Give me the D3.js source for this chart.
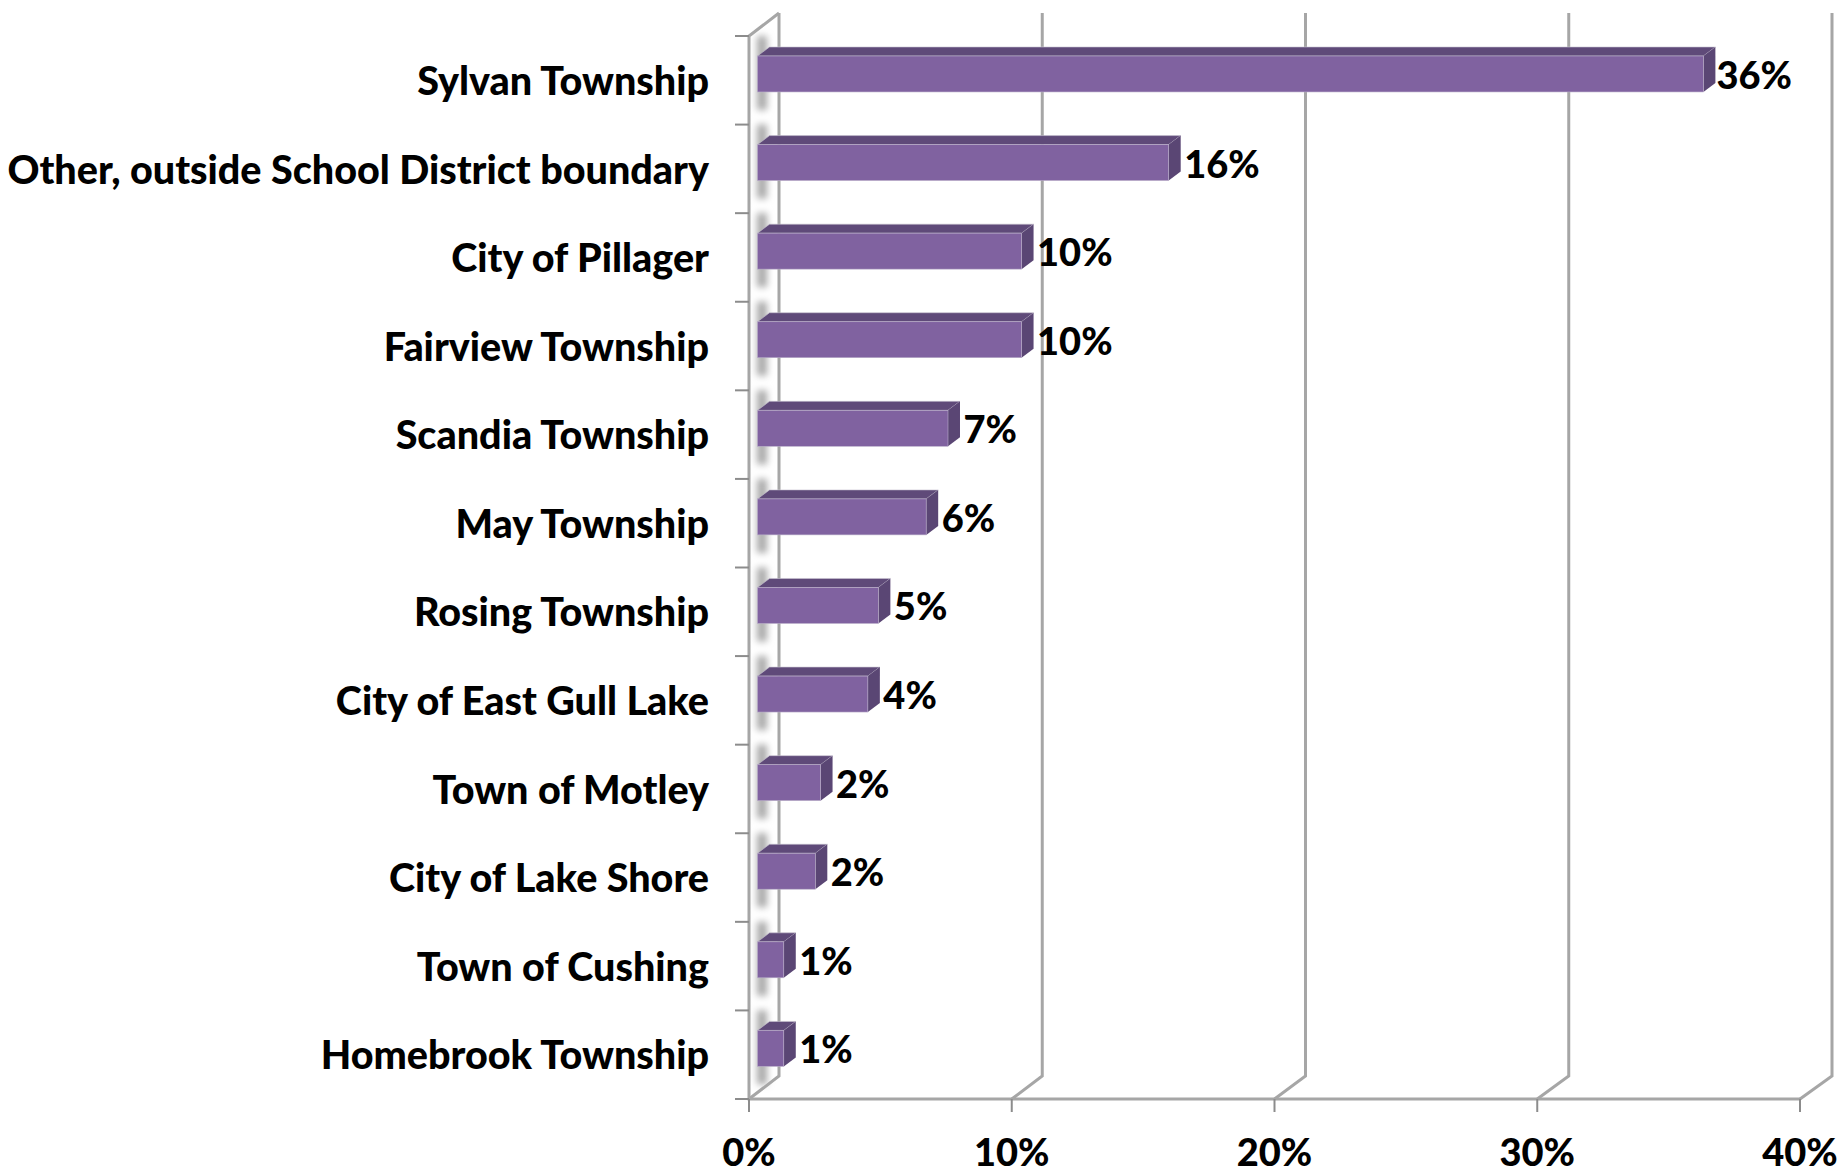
<!DOCTYPE html>
<html><head><meta charset="utf-8">
<script src="https://cdn.jsdelivr.net/npm/d3@7/dist/d3.min.js"></script>
<style>html,body{margin:0;background:#fff;overflow:hidden}svg{display:block}text{font-family:Lato,"Open Sans",sans-serif;font-weight:900;fill:#000}</style>
</head><body><script>
const categories=["Sylvan Township","Other, outside School District boundary","City of Pillager","Fairview Township","Scandia Township","May Township","Rosing Township","City of East Gull Lake","Town of Motley","City of Lake Shore","Town of Cushing","Homebrook Township"];
const values=[36,15.65,10.05,10.05,7.25,6.42,4.6,4.2,2.4,2.2,1,1];
const valueLabels=["36%","16%","10%","10%","7%","6%","5%","4%","2%","2%","1%","1%"];
const xTicks=[0,10,20,30,40];
const titleFragments=["g","g"];

const W=1841,H=1169;
const AX0=749,AX1=1800,AY0=36,AY1=1099,DY=-23,BDX=12,BDY=-9,BARSHIFT=8.5;
const FS=39.5,VFS=38,GRID="#a6a6a6";
const x=d3.scaleLinear().domain([0,40]).range([AX0,AX1]);
const xBack=d3.scaleLinear().domain([0,40]).range([779,1832]);
const y=d3.scaleBand().domain(categories).range([AY0,AY1]).paddingInner(.594).paddingOuter(.297).align(.38);
const svg=d3.select("body").append("svg").attr("width",W).attr("height",H);
const defs=svg.append("defs");
defs.append("filter").attr("id","blur").attr("x","-100%").attr("width","300%").attr("y","-30%").attr("height","160%")
  .append("feGaussianBlur").attr("stdDeviation",3.5);

// cropped title, only descenders visible
svg.selectAll("text.title").data(titleFragments).join("text").attr("class","title")
  .attr("x",(d,i)=>[535,842][i]).attr("y",-8).attr("text-anchor","middle").attr("font-size",40).text(d=>d);

// gridlines on floor and back wall
const grid=svg.append("g").attr("fill","none").attr("stroke",GRID).attr("stroke-width",3);
grid.selectAll("path").data(xTicks).join("path")
  .attr("d",d=>`M${x(d)},${AY1}L${xBack(d)},${AY1+DY}L${xBack(d)},${AY0+DY}`);
// side wall
grid.append("path").attr("d",`M${xBack(0)},${AY0+DY}L${AX0},${AY0}L${AX0},${AY1}L${AX1},${AY1}`);

// axes ticks
const ticks=svg.append("g").attr("stroke","#8c8c8c").attr("stroke-width",2);
ticks.selectAll("line.c").data(d3.range(categories.length+1)).join("line").attr("class","c")
  .attr("x1",AX0-14).attr("x2",AX0).attr("y1",i=>y.range()[0]+i*y.step()).attr("y2",i=>y.range()[0]+i*y.step());
ticks.selectAll("line.x").data(xTicks).join("line").attr("class","x")
  .attr("x1",d=>x(d)).attr("x2",d=>x(d)).attr("y1",AY1).attr("y2",AY1+13);

// wall shadows
svg.append("g").attr("filter","url(#blur)").selectAll("rect").data(categories).join("rect")
  .attr("x",AX0+8).attr("width",10).attr("y",d=>y(d)-20).attr("height",y.bandwidth()+38).attr("fill","#a8a8a8");

// bars
const bars=svg.append("g").selectAll("g").data(categories).join("g");
const x0=x(0)+BARSHIFT;
const w=i=>x(values[i])-x(0);
bars.append("path").attr("fill","#5f4a79").attr("stroke","#c9c4d2").attr("stroke-width",.6)
  .attr("d",(d,i)=>`M${x0},${y(d)}l${BDX},${BDY}h${w(i)}l${-BDX},${-BDY}z`);
bars.append("path").attr("fill","#5a4674")
  .attr("d",(d,i)=>`M${x0+w(i)},${y(d)}l${BDX},${BDY}v${y.bandwidth()}l${-BDX},${-BDY}z`);
bars.append("rect").attr("fill","#8062a0").attr("stroke","#b9aec9").attr("stroke-width",.6)
  .attr("x",x0).attr("y",d=>y(d)).attr("width",(d,i)=>w(i)).attr("height",y.bandwidth());

// labels
svg.selectAll("text.cat").data(categories).join("text").attr("class","cat")
  .attr("x",709).attr("y",d=>y(d)+y.bandwidth()/2+21).attr("text-anchor","end").attr("font-size",FS).text(d=>d);
svg.selectAll("text.val").data(categories).join("text").attr("class","val")
  .attr("x",(d,i)=>x0+w(i)+(i===0?13:15.5)).attr("y",d=>y(d)+y.bandwidth()/2+15).attr("font-size",VFS).text((d,i)=>valueLabels[i]);
svg.selectAll("text.xt").data(xTicks).join("text").attr("class","xt")
  .attr("x",d=>x(d)).attr("y",1166).attr("text-anchor","middle").attr("font-size",VFS).text(d=>d+"%");
</script></body></html>
